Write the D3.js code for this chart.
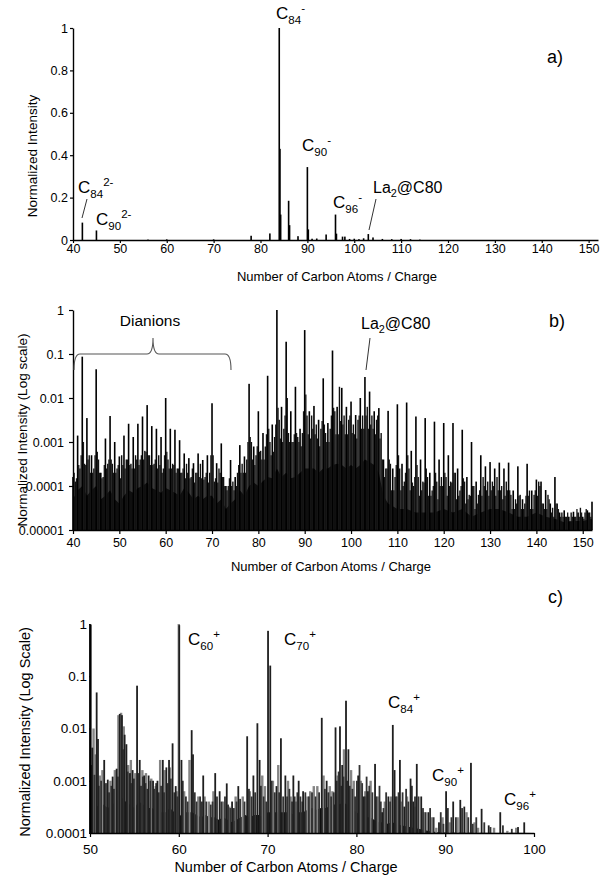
<!DOCTYPE html>
<html><head><meta charset="utf-8">
<script src="https://cdn.jsdelivr.net/npm/d3@7"></script>
<style>
body{margin:0;background:#fff}
svg{display:block}
text{font-family:"Liberation Sans",Arial,sans-serif;fill:#000}
</style>
</head><body>
<svg id="chart" width="600" height="877"></svg>
<script>
// ---------------- DATA ----------------
// Panel a) linear normalized intensity: [carbon atoms / charge, intensity]
const aPeaks = [[42,0.082],[45,0.045],[56,0.002],[60,0.003],[70,0.003],[78,0.02],[82,0.031],
  [84,1.0],[84.15,0.43],[84.3,0.12],[86,0.185],[86.2,0.07],[88,0.018],[90,0.344],[90.2,0.05],
  [91,0.006],[92,0.007],[94,0.026],[96,0.12],[96.2,0.03],[97.5,0.016],[98,0.016],[99,0.005],
  [100,0.006],[101,0.004],[102,0.008],[103,0.028],[104,0.012],[106,0.005],[108,0.004],
  [110,0.005],[112,0.004],[114,0.002]];
const aXTicks = [40,50,60,70,80,90,100,110,120,130,140,150];
const aYTicks = [0,0.2,0.4,0.6,0.8,1];
const aYTickLabels = ["0","0.2","0.4","0.6","0.8","1"];

// Panel b) log scale. Integer positions 40..152
const bMainStart = 40;
const bMain = [1.6e-4,1.4e-3,0.087,3.5e-3,5e-4,0.045,2e-4,1.2e-3,3.9e-3,1e-3,
  4.7e-4,1.4e-3,2.6e-3,1.3e-3,2.6e-3,3.8e-3,6.9e-3,2.3e-3,2e-3,1.3e-3,
  0.01,2e-3,1.9e-3,1.1e-3,5.5e-4,4.3e-4,3.3e-4,5.5e-4,3.9e-4,5e-4,
  7.6e-3,3.3e-4,9.3e-4,1e-4,3.9e-4,1.6e-4,8.5e-4,4.7e-4,0.021,7.9e-4,
  5e-3,1.6e-3,0.032,2.5e-3,1,6.3e-3,0.19,5e-3,0.018,2e-3,
  0.35,5e-3,6.6e-3,3.2e-3,0.028,2.7e-3,0.12,6.3e-3,0.017,6.3e-3,
  8.3e-3,4.1e-3,0.01,0.03,0.014,5e-3,5.9e-3,4e-4,5.1e-3,2.5e-4,
  7.2e-3,3.2e-4,7.9e-3,6.3e-4,3.8e-3,4e-4,3.5e-3,2e-4,2.9e-3,4e-4,
  2.7e-3,5e-4,2.7e-3,2.5e-4,1.9e-3,1.6e-4,1e-3,1.26e-4,5e-4,2.8e-4,
  3.5e-4,2.5e-4,3.4e-4,2.5e-4,3.4e-4,7.9e-5,2.8e-4,5e-5,3.2e-4,7.9e-5,
  1.4e-4,1.26e-4,8.1e-5,4e-5,1.6e-4,2.5e-5,2.8e-5,2e-5,2.6e-5,2.5e-5,
  2e-5,2.8e-5,4.4e-5];
// Half-integer positions 40.5..151.5 (dianions / satellites)
const bHalfStart = 40.5;
const bHalf = [1.26e-4,2.5e-4,3.2e-4,5e-4,2.5e-4,4e-4,1.6e-4,3.2e-4,3.2e-4,2.5e-4,
  5e-4,4e-4,3.2e-4,5e-4,4e-4,6.3e-4,5e-4,3.2e-4,5e-4,2.5e-4,
  4e-4,3.2e-4,2.5e-4,2e-4,3.2e-4,1.6e-4,2e-4,3.2e-4,1.6e-4,2e-4,
  1.26e-4,2.5e-4,1.6e-4,1e-4,1.26e-4,2e-4,3.2e-4,4e-4,1e-3,5e-4,
  6.3e-4,7.9e-4,1e-3,1.3e-3,3.2e-3,2e-3,1.6e-3,1e-3,1.3e-3,1.6e-3,
  4e-3,4e-3,2.5e-3,2e-3,1.6e-3,2e-3,5e-3,0.018,4e-3,3.2e-3,
  2.5e-3,3.2e-3,4e-3,6.3e-3,4e-3,3.2e-3,1.6e-3,2.5e-4,3.2e-4,1.6e-4,
  2.5e-4,1.26e-4,2.5e-4,1e-4,1.6e-4,1.26e-4,1.6e-4,7.9e-5,1.26e-4,1.6e-4,
  1.6e-4,1.26e-4,2e-4,7.9e-5,1.26e-4,6.3e-5,1e-4,6.3e-5,1.6e-4,1.26e-4,
  1.26e-4,1.6e-4,1e-4,1.26e-4,6.3e-5,5e-5,6.3e-5,4e-5,7.9e-5,6.3e-5,
  1.26e-4,4e-5,6.3e-5,3.2e-5,4e-5,2.5e-5,2e-5,2.5e-5,2e-5,3.2e-5,
  2.5e-5,2.5e-5];
// Quarter positions 40.25..151.25 and 40.75..151.75 (unresolved isotopes / fragments)
const bQ1Start = 40.25;
const bQ1 = [2e-4,3e-4,1e-3,4e-4,2e-4,6e-4,1.5e-4,2.5e-4,4e-4,2e-4,
  1.5e-4,2.5e-4,3e-4,2.5e-4,3e-4,4e-4,5e-4,3e-4,2.5e-4,2e-4,
  6e-4,2.5e-4,2e-4,2e-4,1.5e-4,1.5e-4,1.2e-4,1.6e-4,1.4e-4,1.2e-4,
  5e-4,1.2e-4,1.6e-4,8e-5,1e-4,1e-4,2e-4,2e-4,1.3e-3,3e-4,
  6e-4,4e-4,2e-3,6e-4,6e-3,1e-3,0.01,1e-3,1.6e-3,8e-4,
  0.012,1.2e-3,1.5e-3,8e-4,2.5e-3,1e-3,6e-3,1.5e-3,2.5e-3,1.5e-3,
  1.6e-3,1.2e-3,2e-3,4e-3,2.5e-3,1.5e-3,1.2e-3,1.6e-4,4e-4,8e-5,
  5e-4,1e-4,5e-4,1.2e-4,3e-4,8e-5,2.5e-4,6e-5,2e-4,1e-4,
  2e-4,1e-4,2e-4,6e-5,1.5e-4,5e-5,1e-4,4e-5,6e-5,8e-5,
  8e-5,6e-5,8e-5,6e-5,8e-5,3e-5,6e-5,3e-5,6e-5,3e-5,
  6e-5,4e-5,3e-5,2.5e-5,4e-5,2e-5,2e-5,1.6e-5,2e-5,2e-5,
  1.8e-5,2.5e-5];
const bQ3Start = 40.75;
const bQ3 = [1.5e-4,5e-4,3e-4,2e-4,5e-4,2e-4,3e-4,4e-4,2e-4,3e-4,
  3e-4,4e-4,2.5e-4,4e-4,5e-4,6e-4,3e-4,4e-4,3e-4,5e-4,
  2.5e-4,3e-4,2.5e-4,2.5e-4,2e-4,2.5e-4,2e-4,1.5e-4,2e-4,5e-4,
  1.5e-4,2e-4,1e-4,1.5e-4,8e-5,3e-4,2e-4,1e-3,4e-4,8e-4,
  4e-4,1.5e-3,5e-4,2.5e-3,1.2e-3,4e-3,1e-3,1.5e-3,1e-3,5e-3,
  1.5e-3,2e-3,1.2e-3,3e-3,1e-3,4e-3,1.5e-3,3e-3,1.5e-3,4e-3,
  1.5e-3,4e-3,2e-3,2e-3,2e-3,4e-3,4e-4,2.5e-4,8e-5,3e-4,
  8e-5,2e-4,8e-5,1.6e-4,6e-5,1.2e-4,6e-5,1e-4,5e-5,1e-4,
  6e-5,1.2e-4,5e-5,1e-4,4e-5,6e-5,3e-5,8e-5,1e-4,6e-5,
  1e-4,8e-5,5e-5,8e-5,3e-5,4e-5,3e-5,6e-5,3e-5,8e-5,
  1e-4,3e-5,5e-5,2e-5,3e-5,2e-5,2.5e-5,2e-5,3e-5,2.5e-5,
  3e-5,2e-5];
// unresolved background envelope [x, intensity]
const bFloor = [[40,5e-5],[41,8e-5],[42,1e-4],[43,6e-5],[44,8e-5],[45,1e-4],[46,5e-5],[47,6e-5],
  [48,8e-5],[49,5e-5],[50,4e-5],[51,6e-5],[52,8e-5],[53,7e-5],[54,9e-5],[55,1e-4],[56,1.2e-4],
  [57,9e-5],[58,8e-5],[59,7e-5],[60,9e-5],[61,8e-5],[62,7e-5],[63,6e-5],[64,9e-5],[65,7e-5],
  [66,5e-5],[67,6e-5],[68,5e-5],[69,6e-5],[70,6e-5],[71,4e-5],[72,5e-5],[73,3e-5],[74,4e-5],
  [75,5e-5],[76,8e-5],[77,6e-5],[78,1e-4],[79,1.2e-4],[80,1e-4],[81,1.3e-4],[82,1.6e-4],
  [83,1.5e-4],[84,2.5e-4],[85,1.6e-4],[86,2e-4],[87,1.5e-4],[88,1.6e-4],[89,2e-4],[90,2.5e-4],
  [91,2.5e-4],[92,2.5e-4],[93,2e-4],[94,2.5e-4],[95,2.5e-4],[96,3e-4],[97,3.2e-4],[98,3e-4],
  [99,2.5e-4],[100,3e-4],[101,2.5e-4],[102,3e-4],[103,4e-4],[104,3.5e-4],[105,3e-4],[106,2e-4],
  [107,6e-5],[108,4e-5],[110,3e-5],[112,3e-5],[114,2.5e-5],[116,2.5e-5],[118,2.5e-5],[120,3e-5],
  [122,2.5e-5],[124,3e-5],[126,2e-5],[128,2.5e-5],[130,3e-5],[132,3e-5],[134,2.5e-5],[136,2e-5],
  [138,2e-5],[140,2.5e-5],[142,2e-5],[144,1.8e-5],[146,1.5e-5],[148,1.6e-5],[150,1.6e-5],[152,1.8e-5]];
const bXTicks = [40,50,60,70,80,90,100,110,120,130,140,150];
const bYTicks = [1e-5,1e-4,1e-3,1e-2,1e-1,1];
const bYTickLabels = ["0.00001","0.0001","0.001","0.01","0.1","1"];

// Panel c) cations, log scale: dark peaks, medium and lighter gray peaks [x, intensity]
const cDark = [[50.0,1],[50.26,4.3e-3],[50.75,0.049],[50.9,6.3e-3],[51.6,2.5e-3],[52.0,1.05e-3],
  [52.55,1.2e-3],[53.0,1.7e-3],[53.35,0.019],[53.6,0.018],[53.9,7.6e-3],[54.1,5e-3],[54.5,1.4e-3],
  [54.8,1.6e-3],[55.3,0.066],[55.6,2.5e-3],[56.1,1.26e-3],[56.6,1.26e-3],[57.1,1e-3],[57.6,1e-3],
  [58.2,2.5e-3],[58.6,1.8e-3],[58.9,2.5e-3],[59.3,5.2e-3],[59.65,7.9e-4],[60.05,0.95],[60.3,2.5e-3],
  [61.45,9.3e-3],[61.6,3.2e-3],[62.75,1.26e-3],[64.1,1.4e-3],[64.6,6.3e-4],[65.4,8.9e-4],[66.0,4e-4],
  [66.7,7.9e-4],[67.7,7.1e-3],[68.4,1.26e-3],[68.85,0.0126],[69.1,2.5e-3],[70.05,0.74],[70.3,0.16],
  [71.0,7.9e-4],[71.5,6.5e-3],[72.0,1.26e-3],[72.9,1.26e-3],[73.5,1e-3],[74.0,6.3e-4],[76.1,0.016],
  [76.65,1e-3],[77.65,0.0105],[78.15,0.011],[78.4,2e-3],[78.83,0.034],[79.1,4e-3],[80.2,1.26e-3],
  [80.8,5e-4],[81.3,6.3e-4],[82.1,2.1e-3],[82.9,2.5e-4],[83.6,5e-4],[84.1,0.0117],[84.3,1.6e-3],
  [84.9,2.5e-3],[85.4,3.2e-4],[86.1,1.1e-3],[86.4,4e-4],[86.8,2.1e-3],[87.3,5e-4],[88.1,2.5e-4],
  [89.3,1.6e-4],[90.1,6.3e-4],[90.9,4e-4],[91.7,4.3e-4],[92.15,3.2e-4],[92.9,2.2e-3],[94.1,2.9e-4],
  [94.9,1.4e-4],[96.2,2.5e-4],[98.2,1.3e-4],[98.9,1.6e-4]];
const cMid = [[50.15,2e-3],[50.5,1.3e-3],[51.0,8e-4],[51.25,1e-3],[51.8,9e-4],[52.15,6e-4],[52.4,8e-4],
  [52.7,7e-4],[53.15,1.2e-3],[53.75,4e-3],[54.25,1.5e-3],[54.65,9e-4],[54.95,1.1e-3],[55.45,1.4e-3],
  [55.75,8e-4],[55.95,1.2e-3],[56.25,9e-4],[56.45,7e-4],[56.8,1e-3],[57.25,7e-4],[57.45,9e-4],
  [57.75,6e-4],[58.0,8e-4],[58.35,6e-4],[58.75,9e-4],[59.1,1.1e-3],[59.5,6e-4],[59.85,5e-4],
  [60.45,1e-3],[60.8,5e-4],[61.0,4e-4],[61.8,6e-4],[62.0,4e-4],[62.4,5e-4],[62.6,4e-4],[63.1,4e-4],
  [63.6,3.5e-4],[63.8,4e-4],[64.3,5e-4],[64.8,4e-4],[65.2,5e-4],[65.55,3.5e-4],[65.8,3e-4],
  [66.2,3e-4],[66.5,4e-4],[66.9,4.5e-4],[67.4,4e-4],[67.9,7e-4],[68.2,5e-4],[68.6,6e-4],[69.25,8e-4],
  [69.55,5e-4],[69.85,4e-4],[70.45,1e-3],[70.8,6e-4],[71.3,6e-4],[71.75,5e-4],[72.2,5e-4],
  [72.45,7e-4],[72.75,4e-4],[73.05,5e-4],[73.35,6e-4],[73.7,5e-4],[73.9,4e-4],[74.25,6e-4],
  [74.65,5e-4],[75.0,6e-4],[75.4,5e-4],[75.8,6e-4],[76.45,7e-4],[76.85,6e-4],[77.15,5e-4],
  [77.45,6e-4],[77.8,1e-3],[78.0,1.5e-3],[78.3,8e-4],[78.55,1.2e-3],[78.95,1e-3],[79.25,8e-4],
  [79.55,7e-4],[79.85,5e-4],[80.05,1e-3],[80.35,2e-3],[80.65,9e-4],[80.95,5e-4],[81.15,1.2e-3],
  [81.45,8e-4],[81.8,6e-4],[82.25,5e-4],[82.6,8e-4],[82.75,4e-4],[83.05,3e-4],[83.35,6e-4],
  [83.8,4e-4],[84.45,5e-4],[84.75,6e-4],[85.2,6e-4],[85.6,7e-4],[85.85,4e-4],[86.25,8e-4],
  [86.6,5e-4],[87.0,5e-4],[87.5,3e-4],[87.8,2.5e-4],[88.3,3e-4],[88.7,2e-4],[89.5,2.5e-4],
  [89.8,1.5e-4],[90.3,3e-4],[90.7,2e-4],[91.2,2e-4],[91.9,3e-4],[92.6,2e-4],[93.1,1.5e-4],
  [93.5,2e-4],[94.4,1.6e-4],[95.1,1.3e-4],[96.5,1.4e-4],[97.5,1.2e-4]];
const cGray = [[50.4,0.01],[50.6,3.2e-3],[51.1,1.26e-3],[51.4,1.6e-3],[52.3,1e-3],[52.8,1.6e-3],
  [53.2,0.018],[53.5,0.02],[53.8,0.011],[54.3,2e-3],[54.6,2.5e-3],[55.1,1.4e-3],[55.9,1.6e-3],
  [56.3,1.4e-3],[56.9,1.1e-3],[57.4,7.9e-4],[57.9,2.5e-3],[58.4,1.6e-3],[59.0,1.8e-3],[59.8,6.3e-4],
  [60.0,1],[60.6,6.3e-4],[61.2,2.5e-3],[62.2,5e-4],[62.9,5e-4],[63.4,4e-4],[63.9,6.3e-4],[65.0,4e-4],
  [65.7,3.2e-4],[66.4,5e-4],[67.2,5e-4],[68.0,6.3e-4],[69.4,1.26e-3],[69.7,7.9e-4],[70.6,1e-3],
  [71.2,2e-3],[72.3,1e-3],[72.6,5e-4],[73.2,4e-4],[74.5,5e-4],[74.8,6.3e-4],[75.2,7.9e-4],
  [75.6,7.9e-4],[76.3,1.26e-3],[77.0,7.9e-4],[77.3,6.3e-4],[77.9,1.26e-3],[78.6,4e-3],[79.4,1.6e-3],
  [79.7,1e-3],[80.5,1e-3],[81.0,6.3e-4],[81.6,1e-3],[82.4,5e-4],[83.2,4e-4],[83.9,5e-4],[84.6,5e-4],
  [85.1,4e-4],[85.7,5e-4],[86.6,3.2e-4],[87.6,2.5e-4],[88.5,2e-4],[89.0,1.26e-4],[89.7,2e-4],
  [90.5,1.6e-4],[91.4,2e-4],[92.4,2.5e-4],[93.3,1.6e-4],[93.7,1.26e-4],[95.5,1.26e-4],[97.0,1.1e-4],
  [98.0,1.26e-4]];
const cFloor = [[50,3e-4],[50.5,4e-4],[51,3e-4],[51.5,3.5e-4],[52,3e-4],[52.5,3.5e-4],[53,4e-4],
  [53.5,5e-4],[54,4e-4],[54.5,3.5e-4],[55,3e-4],[55.5,4e-4],[56,3.5e-4],[56.5,3e-4],[57,3e-4],
  [57.5,2.5e-4],[58,2.5e-4],[58.5,2.5e-4],[59,3e-4],[59.5,2.5e-4],[60,2e-4],[60.5,2.5e-4],[61,2.5e-4],
  [61.5,2.5e-4],[62,2.2e-4],[62.5,2e-4],[63,2.2e-4],[63.5,2e-4],[64,2e-4],[64.5,1.8e-4],[65,2e-4],
  [65.5,1.8e-4],[66,1.6e-4],[66.5,1.8e-4],[67,2e-4],[67.5,2.2e-4],[68,2e-4],[68.5,2.2e-4],[69,2.2e-4],
  [69.5,2e-4],[70,2.5e-4],[70.5,2.5e-4],[71,2.5e-4],[71.5,2.5e-4],[72,2.5e-4],[72.5,2.5e-4],
  [73,2.2e-4],[73.5,2.5e-4],[74,2.5e-4],[74.5,2.8e-4],[75,3e-4],[75.5,2.8e-4],[76,3e-4],[76.5,3e-4],
  [77,3.2e-4],[77.5,3.5e-4],[78,3.5e-4],[78.5,3.8e-4],[79,3.5e-4],[79.5,3e-4],[80,2.5e-4],
  [80.5,2.2e-4],[81,2e-4],[81.5,2e-4],[82,1.8e-4],[82.5,1.6e-4],[83,1.6e-4],[83.5,1.5e-4],
  [84,1.6e-4],[84.5,1.5e-4],[85,1.4e-4],[86,1.3e-4],[87,1.2e-4],[88,1.1e-4],[89,1.05e-4],
  [90,1.02e-4],[100,1e-4]];
const cXTicks = [50,60,70,80,90,100];
const cYTicks = [1e-4,1e-3,1e-2,1e-1,1];
const cYTickLabels = ["0.0001","0.001","0.01","0.1","1"];

const xTitleAB = "Number of Carbon Atoms  / Charge";
const xTitleC = "Number of Carbon Atoms / Charge";
const yTitles = ["Normalized Intensity","Normalized Intensity (Log scale)","Normalized Intensity (Log Scale)"];
const panelTags = ["a)","b)","c)"];

// ---------------- DRAW ----------------
const svg = d3.select("#chart");
const FONT = '"Liberation Sans",Arial,sans-serif';
const TAGFONT = "Lato,'Open Sans',sans-serif";

function chem(g, x, y, parts, size){
  const t = g.append("text").attr("x",x).attr("y",y).attr("font-size",size);
  parts.forEach(p=>{
    const s = t.append("tspan").text(p[0]);
    if(p[1]==="sub") s.attr("y",y+size*0.28).attr("font-size",size*0.68);
    else if(p[1]==="sup") s.attr("y",y-size*0.4).attr("font-size",size*0.68);
    else s.attr("y",y);
  });
  return t;
}
function styleAxis(g, fs){
  g.selectAll("path.domain").attr("stroke","#000").attr("stroke-width",1.4);
  g.selectAll(".tick line").attr("stroke","#000").attr("stroke-width",1.2);
  g.selectAll("text").attr("font-family",FONT).attr("font-size",fs).attr("fill","#000");
}
function bars(g, data, x, y, base, w, color){
  g.append("g").selectAll("rect").data(data).join("rect")
    .attr("x",d=>x(d[0])-w/2).attr("width",w)
    .attr("y",d=>Math.min(y(d[1]),base)).attr("height",d=>Math.max(0,base-y(d[1])))
    .attr("fill",color);
}
const seq = (arr, start, step) => arr.map((v,i)=>[start+i*step, v]);

// ===== Panel a =====
{
  const x = d3.scaleLinear().domain([40,152]).range([73,598]);
  const y = d3.scaleLinear().domain([0,1]).range([240,28]);
  const g = svg.append("g");
  bars(g, aPeaks, x, y, 240, 1.6, "#000");
  const ya = g.append("g").attr("transform","translate(73,0)")
    .call(d3.axisLeft(y).tickValues(aYTicks).tickFormat((d,i)=>aYTickLabels[i]).tickSize(3).tickPadding(2).tickSizeOuter(0));
  styleAxis(ya, 12.5);
  const xa = g.append("g").attr("transform","translate(0,240)")
    .call(d3.axisBottom(x).tickValues(aXTicks).tickSize(3).tickPadding(1).tickSizeOuter(0));
  styleAxis(xa, 12.5);
  g.append("text").attr("x",337).attr("y",281).attr("text-anchor","middle").attr("font-size",13).text(xTitleAB);
  g.append("text").attr("transform","translate(37,156) rotate(-90)").attr("text-anchor","middle").attr("font-size",13.5).text(yTitles[0]);
  g.append("text").attr("x",547).attr("y",63).attr("font-family",TAGFONT).attr("font-size",18).text(panelTags[0]);
  chem(g,276,19,[["C",""],["84","sub"],["-","sup"]],17);
  chem(g,302,151,[["C",""],["90","sub"],["-","sup"]],17);
  chem(g,333,208,[["C",""],["96","sub"],["-","sup"]],17);
  chem(g,373,193,[["La",""],["2","sub"],["@C80",""]],16);
  chem(g,78,193,[["C",""],["84","sub"],["2-","sup"]],17);
  chem(g,96,225,[["C",""],["90","sub"],["2-","sup"]],17);
  g.append("line").attr("x1",376).attr("y1",199).attr("x2",369).attr("y2",230).attr("stroke","#333").attr("stroke-width",1);
  g.append("line").attr("x1",87).attr("y1",199).attr("x2",82).attr("y2",218).attr("stroke","#333").attr("stroke-width",1);
}

// ===== Panel b =====
{
  const x = d3.scaleLinear().domain([40,152]).range([73,592]);
  const y = d3.scaleLog().domain([1e-5,1]).range([530,310]).clamp(true);
  const g = svg.append("g");
  const base = 530;
  g.append("path").datum(bFloor)
    .attr("d", d3.area().x(d=>x(d[0])).y0(base).y1(d=>y(d[1])))
    .attr("fill","#000");
  bars(g, seq(bQ1,bQ1Start,1), x, y, base, 1.3, "#1a1a1a");
  bars(g, seq(bQ3,bQ3Start,1), x, y, base, 1.3, "#1a1a1a");
  bars(g, seq(bHalf,bHalfStart,1), x, y, base, 1.4, "#111");
  bars(g, seq(bMain,bMainStart,1), x, y, base, 1.6, "#000");
  const ya = g.append("g").attr("transform","translate(73,0)")
    .call(d3.axisLeft(y).tickValues(bYTicks).tickFormat((d,i)=>bYTickLabels[i]).tickSize(4).tickPadding(5).tickSizeOuter(0));
  styleAxis(ya, 12.5);
  const xa = g.append("g").attr("transform","translate(0,530)")
    .call(d3.axisBottom(x).tickValues(bXTicks).tickSize(4).tickPadding(4).tickSizeOuter(0));
  styleAxis(xa, 12.5);
  g.append("text").attr("x",331).attr("y",571).attr("text-anchor","middle").attr("font-size",13).text(xTitleAB);
  g.append("text").attr("transform","translate(27,430) rotate(-90)").attr("text-anchor","middle").attr("font-size",13.5).text(yTitles[1]);
  g.append("text").attr("x",549).attr("y",327).attr("font-family",TAGFONT).attr("font-size",18).text(panelTags[1]);
  g.append("text").attr("x",150).attr("y",326).attr("text-anchor","middle").attr("font-size",15.5).text("Dianions");
  g.append("path").attr("d","M74,370 Q74,354 80,354 L147,354 Q153,354 153,338 Q153,354 159,354 L225,354 Q231,354 231,370")
    .attr("fill","none").attr("stroke","#555").attr("stroke-width",1.1);
  chem(g,361,329,[["La",""],["2","sub"],["@C80",""]],16);
  g.append("line").attr("x1",370).attr("y1",338).attr("x2",366).attr("y2",370).attr("stroke","#333").attr("stroke-width",1);
}

// ===== Panel c =====
{
  const x = d3.scaleLinear().domain([50,100]).range([90,534]);
  const y = d3.scaleLog().domain([1e-4,1]).range([833,624]).clamp(true);
  const g = svg.append("g");
  const base = 833;
  g.append("path").datum(cFloor)
    .attr("d", d3.area().x(d=>x(d[0])).y0(base).y1(d=>y(d[1])))
    .attr("fill","#0d0d0d");
  bars(g, cGray, x, y, base, 2.4, "#858585");
  bars(g, cMid, x, y, base, 1.8, "#333");
  bars(g, cDark, x, y, base, 1.8, "#1f1f1f");
  const ya = g.append("g").attr("transform","translate(90,0)")
    .call(d3.axisLeft(y).tickValues(cYTicks).tickFormat((d,i)=>cYTickLabels[i]).tickSize(1).tickPadding(2).tickSizeOuter(0));
  styleAxis(ya, 13.5);
  ya.select("path.domain").attr("stroke-width",2.2);
  const xa = g.append("g").attr("transform","translate(0,833)")
    .call(d3.axisBottom(x).tickValues(cXTicks).tickSize(4).tickPadding(7).tickSizeOuter(0));
  styleAxis(xa, 13.5);
  g.append("text").attr("x",286).attr("y",872).attr("text-anchor","middle").attr("font-size",14.5).text(xTitleC);
  g.append("text").attr("transform","translate(30,732) rotate(-90)").attr("text-anchor","middle").attr("font-size",14.5).text(yTitles[2]);
  g.append("text").attr("x",548).attr("y",603).attr("font-family",TAGFONT).attr("font-size",18).text(panelTags[2]);
  chem(g,188,645,[["C",""],["60","sub"],["+","sup"]],17);
  chem(g,284,645,[["C",""],["70","sub"],["+","sup"]],17);
  chem(g,388,708,[["C",""],["84","sub"],["+","sup"]],17);
  chem(g,432,781,[["C",""],["90","sub"],["+","sup"]],17);
  chem(g,504,805,[["C",""],["96","sub"],["+","sup"]],17);
}
</script>
</body></html>
